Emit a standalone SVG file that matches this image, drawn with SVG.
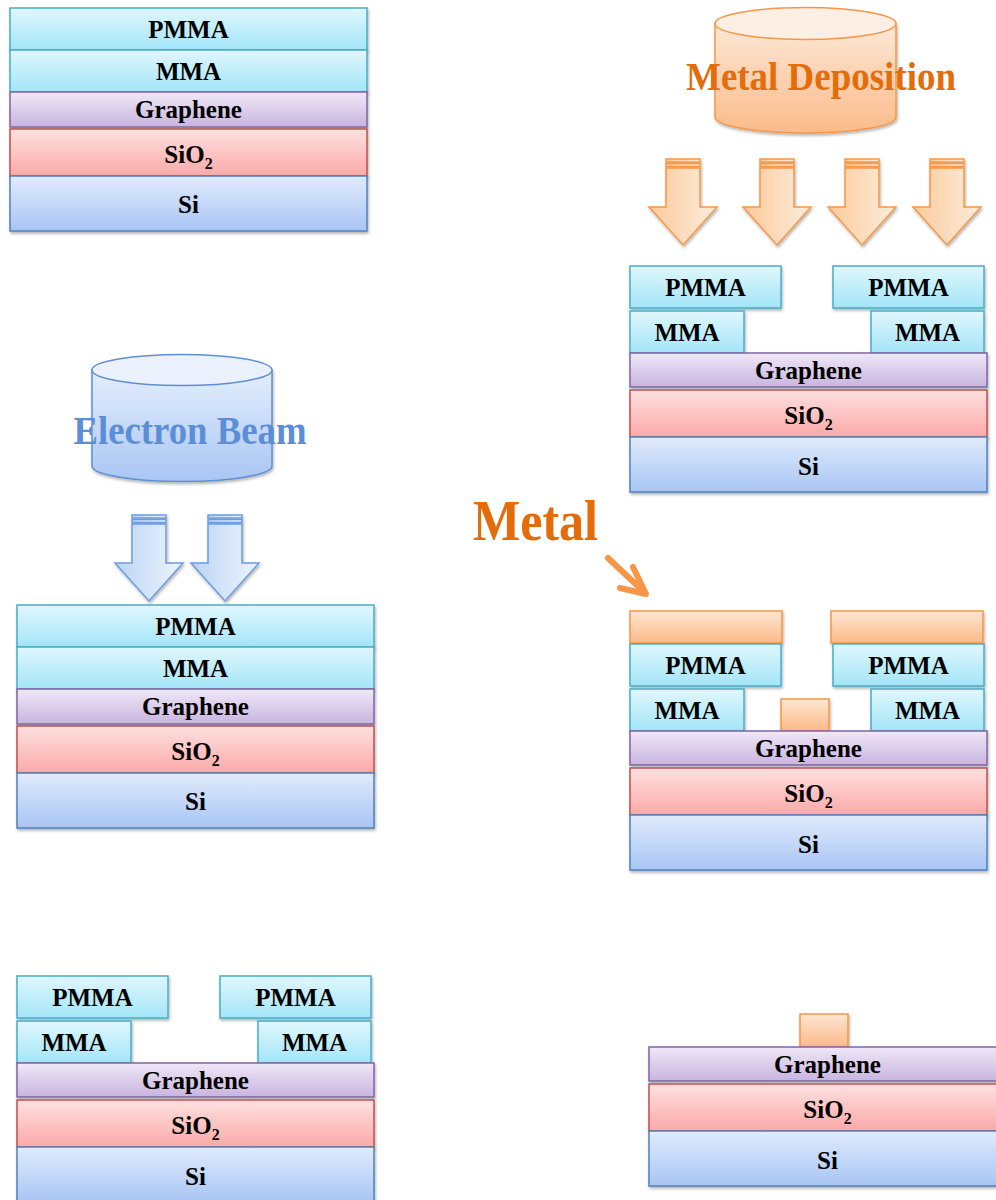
<svg xmlns="http://www.w3.org/2000/svg" xmlns:xlink="http://www.w3.org/1999/xlink" width="996" height="1200" viewBox="0 0 996 1200">
<defs>
  <linearGradient id="gPmma" x1="0" y1="0" x2="0" y2="1"><stop offset="0" stop-color="#e0f7fd"/><stop offset="1" stop-color="#a3e5f8"/></linearGradient>
  <linearGradient id="gGraph" x1="0" y1="0" x2="0" y2="1"><stop offset="0" stop-color="#f0e8f7"/><stop offset="1" stop-color="#c8b5df"/></linearGradient>
  <linearGradient id="gSio2" x1="0" y1="0" x2="0" y2="1"><stop offset="0" stop-color="#fde1e0"/><stop offset="1" stop-color="#fba9a8"/></linearGradient>
  <linearGradient id="gSi" x1="0" y1="0" x2="0" y2="1"><stop offset="0" stop-color="#e0ebfc"/><stop offset="1" stop-color="#a8c5f4"/></linearGradient>
  <linearGradient id="gMetal" x1="0" y1="0" x2="0" y2="1"><stop offset="0" stop-color="#fde6d3"/><stop offset="1" stop-color="#fbba88"/></linearGradient>
  <linearGradient id="gArrowB" x1="0" y1="0" x2="1" y2="0"><stop offset="0" stop-color="#bcd4f4"/><stop offset="1" stop-color="#edf4fe"/></linearGradient>
  <linearGradient id="gArrowO" x1="0" y1="0" x2="1" y2="0"><stop offset="0" stop-color="#fbca9b"/><stop offset="1" stop-color="#fdeddc"/></linearGradient>
  <linearGradient id="gCylB" x1="0" y1="0" x2="0" y2="1"><stop offset="0" stop-color="#e4eefc"/><stop offset="1" stop-color="#a9c6f4"/></linearGradient>
  <linearGradient id="gCylO" x1="0" y1="0" x2="0" y2="1"><stop offset="0" stop-color="#fde8d6"/><stop offset="1" stop-color="#fbbb8a"/></linearGradient>
  <filter id="sh" x="-10%" y="-10%" width="120%" height="130%">
    <feDropShadow dx="1" dy="2" stdDeviation="1.5" flood-color="#000" flood-opacity="0.3"/>
  </filter>
  <g id="blockArrow">
    <rect x="-17" y="0" width="34" height="3"/>
    <rect x="-17" y="4.5" width="34" height="3"/>
    <path d="M-17,9 H17 V48 H34 L0,86 L-34,48 H-17 Z"/>
  </g>
  <style>
    .lay { stroke-width: 1.5; filter: url(#sh); }
    .pmma { fill: url(#gPmma); stroke: #4bacc6; }
    .gra { fill: url(#gGraph); stroke: #8064a2; }
    .sio { fill: url(#gSio2); stroke: #c0504d; }
    .si { fill: url(#gSi); stroke: #4f81bd; }
    .met { fill: url(#gMetal); stroke: #f79646; }
    .lbl { font-family: "Liberation Serif", "Times New Roman", serif; font-weight: bold; font-size: 25px; fill: #000; text-anchor: middle; }
    .sub { font-size: 16px; }
    .big { font-family: "Liberation Serif", "Times New Roman", serif; font-weight: bold; }
    .arB { fill: url(#gArrowB); stroke: #6c9be0; stroke-width: 1.5; stroke-linejoin: miter; filter: url(#sh); }
    .arO { fill: url(#gArrowO); stroke: #f79646; stroke-width: 1.5; filter: url(#sh); }
  </style>
</defs>
<rect x="0" y="0" width="996" height="1200" fill="#ffffff"/>

<!-- Stack 1: initial -->
<g id="stack1" transform="translate(10,8)">
  <rect class="lay pmma" x="0" y="0" width="357" height="42"/>
  <rect class="lay pmma" x="0" y="42" width="357" height="42"/>
  <rect class="lay gra" x="0" y="84" width="357" height="35"/>
  <rect class="lay sio" x="0" y="121" width="357" height="47"/>
  <rect class="lay si" x="0" y="168" width="357" height="55"/>
  <text class="lbl" x="178.5" y="30">PMMA</text>
  <text class="lbl" x="178.5" y="72">MMA</text>
  <text class="lbl" x="178.5" y="110">Graphene</text>
  <text class="lbl" x="178.5" y="155">SiO<tspan class="sub" dy="6">2</tspan></text>
  <text class="lbl" x="178.5" y="205">Si</text>
</g>

<!-- Electron beam source -->
<g id="ebeam-source">
  <path d="M92,370 V466 A90,15.5 0 0 0 272,466 V370 Z" fill="url(#gCylB)" stroke="#5e8fd3" stroke-width="1.5" filter="url(#sh)"/>
  <ellipse cx="182" cy="370" rx="90" ry="15.5" fill="#eaf1fd" stroke="#5e8fd3" stroke-width="1.5"/>
  <text class="big" x="190" y="444" font-size="39" text-anchor="middle" textLength="233" lengthAdjust="spacingAndGlyphs" fill="#5b8ed7">Electron Beam</text>
</g>

<g id="ebeam-arrows">
  <use xlink:href="#blockArrow" class="arB" transform="translate(149,515)"/>
  <use xlink:href="#blockArrow" class="arB" transform="translate(225,515)"/>
</g>

<!-- Stack 2: exposure -->
<g id="stack2" transform="translate(17,605)">
  <rect class="lay pmma" x="0" y="0" width="357" height="42"/>
  <rect class="lay pmma" x="0" y="42" width="357" height="42"/>
  <rect class="lay gra" x="0" y="84" width="357" height="35"/>
  <rect class="lay sio" x="0" y="121" width="357" height="47"/>
  <rect class="lay si" x="0" y="168" width="357" height="55"/>
  <text class="lbl" x="178.5" y="30">PMMA</text>
  <text class="lbl" x="178.5" y="72">MMA</text>
  <text class="lbl" x="178.5" y="110">Graphene</text>
  <text class="lbl" x="178.5" y="155">SiO<tspan class="sub" dy="6">2</tspan></text>
  <text class="lbl" x="178.5" y="205">Si</text>
</g>

<!-- Stack 3: developed -->
<g id="stack3" transform="translate(17,976)">
  <rect class="lay pmma" x="0" y="0" width="151" height="42"/>
  <rect class="lay pmma" x="203" y="0" width="151" height="42"/>
  <rect class="lay pmma" x="0" y="45" width="114" height="42"/>
  <rect class="lay pmma" x="241" y="45" width="113" height="42"/>
  <rect class="lay gra" x="0" y="87" width="357" height="34"/>
  <rect class="lay sio" x="0" y="124" width="357" height="47"/>
  <rect class="lay si" x="0" y="171" width="357" height="55"/>
  <text class="lbl" x="75.5" y="30">PMMA</text>
  <text class="lbl" x="278.5" y="30">PMMA</text>
  <text class="lbl" x="57" y="75">MMA</text>
  <text class="lbl" x="297.5" y="75">MMA</text>
  <text class="lbl" x="178.5" y="113">Graphene</text>
  <text class="lbl" x="178.5" y="158">SiO<tspan class="sub" dy="6">2</tspan></text>
  <text class="lbl" x="178.5" y="209">Si</text>
</g>

<!-- Metal deposition source -->
<g id="metal-source">
  <path d="M715,23.5 V117 A90.5,16 0 0 0 896,117 V23.5 Z" fill="url(#gCylO)" stroke="#f79646" stroke-width="1.5" filter="url(#sh)"/>
  <ellipse cx="805.5" cy="23.5" rx="90.5" ry="16" fill="#fdefe3" stroke="#f79646" stroke-width="1.5"/>
  <text class="big" x="821" y="90" font-size="40" text-anchor="middle" textLength="270" lengthAdjust="spacingAndGlyphs" fill="#e46c0a">Metal Deposition</text>
</g>

<g id="metal-arrows">
  <use xlink:href="#blockArrow" class="arO" transform="translate(683,159)"/>
  <use xlink:href="#blockArrow" class="arO" transform="translate(777,159)"/>
  <use xlink:href="#blockArrow" class="arO" transform="translate(862,159)"/>
  <use xlink:href="#blockArrow" class="arO" transform="translate(947,159)"/>
</g>

<!-- Stack 4: before deposition -->
<g id="stack4" transform="translate(630,266)">
  <rect class="lay pmma" x="0" y="0" width="151" height="42"/>
  <rect class="lay pmma" x="203" y="0" width="151" height="42"/>
  <rect class="lay pmma" x="0" y="45" width="114" height="42"/>
  <rect class="lay pmma" x="241" y="45" width="113" height="42"/>
  <rect class="lay gra" x="0" y="87" width="357" height="34"/>
  <rect class="lay sio" x="0" y="124" width="357" height="47"/>
  <rect class="lay si" x="0" y="171" width="357" height="55"/>
  <text class="lbl" x="75.5" y="30">PMMA</text>
  <text class="lbl" x="278.5" y="30">PMMA</text>
  <text class="lbl" x="57" y="75">MMA</text>
  <text class="lbl" x="297.5" y="75">MMA</text>
  <text class="lbl" x="178.5" y="113">Graphene</text>
  <text class="lbl" x="178.5" y="158">SiO<tspan class="sub" dy="6">2</tspan></text>
  <text class="lbl" x="178.5" y="209">Si</text>
</g>

<!-- Metal label -->
<g id="metal-label">
  <text class="big" x="473" y="540" font-size="56" textLength="125" lengthAdjust="spacingAndGlyphs" fill="#e46c0a">Metal</text>
</g>

<g id="connectors">
  <path d="M608,558 L644,592" fill="none" stroke="#f79646" stroke-width="6" stroke-linecap="round"/>
  <path d="M620,588 L646,594 L633,567" fill="none" stroke="#f79646" stroke-width="6" stroke-linecap="round" stroke-linejoin="round"/>
</g>

<!-- Stack 5: after deposition -->
<g id="stack5" transform="translate(630,644)">
  <rect class="lay met" x="0" y="-33" width="152" height="32"/>
  <rect class="lay met" x="201" y="-33" width="152" height="32"/>
  <rect class="lay pmma" x="0" y="0" width="151" height="42"/>
  <rect class="lay pmma" x="203" y="0" width="151" height="42"/>
  <rect class="lay pmma" x="0" y="45" width="114" height="42"/>
  <rect class="lay pmma" x="241" y="45" width="113" height="42"/>
  <rect class="lay met" x="151" y="55" width="48" height="32"/>
  <rect class="lay gra" x="0" y="87" width="357" height="34"/>
  <rect class="lay sio" x="0" y="124" width="357" height="47"/>
  <rect class="lay si" x="0" y="171" width="357" height="55"/>
  <text class="lbl" x="75.5" y="30">PMMA</text>
  <text class="lbl" x="278.5" y="30">PMMA</text>
  <text class="lbl" x="57" y="75">MMA</text>
  <text class="lbl" x="297.5" y="75">MMA</text>
  <text class="lbl" x="178.5" y="113">Graphene</text>
  <text class="lbl" x="178.5" y="158">SiO<tspan class="sub" dy="6">2</tspan></text>
  <text class="lbl" x="178.5" y="209">Si</text>
</g>

<!-- Stack 6: lift-off -->
<g id="stack6" transform="translate(649,960)">
  <rect class="lay met" x="151" y="54" width="48" height="33"/>
  <rect class="lay gra" x="0" y="87" width="357" height="34"/>
  <rect class="lay sio" x="0" y="124" width="357" height="47"/>
  <rect class="lay si" x="0" y="171" width="357" height="55"/>
  <text class="lbl" x="178.5" y="113">Graphene</text>
  <text class="lbl" x="178.5" y="158">SiO<tspan class="sub" dy="6">2</tspan></text>
  <text class="lbl" x="178.5" y="209">Si</text>
</g>
</svg>
